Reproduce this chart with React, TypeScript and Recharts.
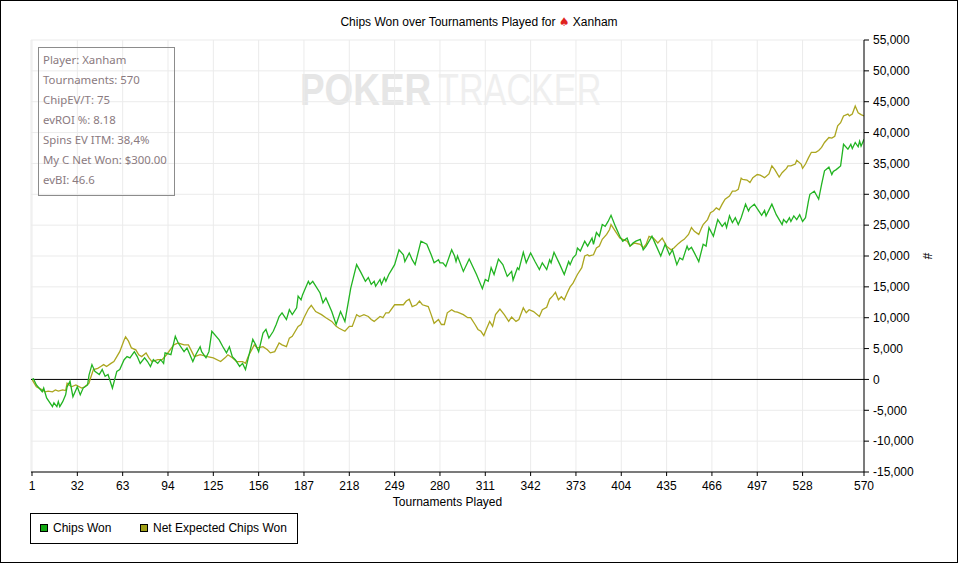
import React from "react";
import { LineChart, Line, XAxis, YAxis, CartesianGrid, ReferenceLine } from "recharts";

// ---- Data (tournament number, chips) ----
const chipsWonTournaments = [
  1, 2, 4, 8, 9, 11, 15, 16, 18, 19, 20, 22, 24, 25, 27, 29, 32, 34, 36, 39, 40, 42, 44, 47, 49, 51, 53, 56, 59, 61,
  64, 66, 68, 71, 73, 75, 78, 80, 82, 84, 87, 89, 91, 92, 96, 99, 101, 105, 107, 111, 113, 116, 117, 120, 122, 124,
  129, 132, 134, 136, 138, 140, 143, 145, 147, 152, 154, 156, 159, 161, 163, 166, 168, 170, 172, 175, 177, 179, 182,
  183, 185, 186, 190, 191, 193, 198, 200, 202, 206, 209, 212, 215, 219, 223, 226, 229, 231, 233, 235, 236, 239, 240,
  242, 243, 245, 247, 249, 252, 255, 256, 259, 261, 263, 267, 271, 274, 276, 279, 280, 282, 284, 288, 290, 291, 292,
  296, 300, 305, 309, 311, 313, 315, 317, 320, 323, 326, 329, 330, 333, 334, 337, 339, 342, 345, 348, 350, 353, 355,
  356, 358, 362, 365, 368, 369, 371, 373, 374, 376, 379, 381, 384, 385, 387, 389, 391, 393, 395, 397, 400, 403, 405,
  408, 410, 412, 414, 417, 419, 421, 425, 428, 431, 434, 437, 439, 442, 444, 446, 449, 450, 452, 454, 457, 460, 462,
  464, 467, 470, 473, 475, 476, 478, 480, 482, 484, 486, 489, 491, 492, 495, 498, 500, 502, 503, 507, 510, 514, 515,
  517, 519, 520, 522, 524, 526, 528, 530, 532, 533, 536, 539, 541, 543, 546, 548, 549, 551, 554, 556, 559, 561, 562,
  564, 566, 567, 568, 570,
];
const chipsWonValues = [
  0, 100, -900, -2000, -1400, -3000, -4400, -3800, -4400, -3600, -4400, -3600, -2500, -1200, -300, -2800, -1200,
  -2500, -1400, -900, 700, 2400, 1300, 800, 1600, 500, 800, -1400, 1300, 1600, 3200, 3700, 3500, 4500, 3700, 2600,
  3500, 2900, 2100, 3200, 2600, 3200, 2600, 4300, 4000, 7000, 5900, 4500, 5100, 2900, 4000, 5300, 4500, 3500, 4500,
  7800, 6400, 5100, 4300, 5300, 3700, 3200, 2100, 2600, 1600, 6500, 5600, 4500, 7500, 8100, 6700, 7800, 8900, 10200,
  10800, 9700, 11300, 10500, 11600, 13500, 12900, 13700, 15900, 15400, 15900, 14000, 12400, 13200, 11000, 8900,
  11000, 9400, 14800, 18600, 17300, 15900, 16500, 15400, 15900, 15100, 16200, 15400, 16500, 15900, 17000, 17800,
  18600, 21000, 20200, 19100, 20500, 19400, 18600, 22400, 21900, 20200, 18900, 19400, 18900, 18900, 18300, 21000,
  20000, 19100, 20000, 17500, 19500, 17000, 14700, 16200, 15900, 18100, 17000, 19500, 18600, 16700, 17500, 16100,
  18100, 17800, 20600, 18900, 20500, 19100, 17800, 18900, 17800, 19400, 18900, 20600, 18600, 17000, 19100, 18600,
  19700, 20200, 21300, 20800, 22400, 21600, 22900, 21900, 23800, 23200, 25100, 24800, 25600, 26600, 24800, 23200,
  22400, 22900, 21600, 22100, 22400, 22700, 21000, 21600, 23200, 21600, 20000, 21900, 20200, 21000, 18600, 19700,
  19400, 21600, 21000, 21400, 20500, 19100, 21900, 21600, 24600, 23200, 25900, 24800, 25400, 24600, 26500, 25400,
  26200, 25100, 26200, 28400, 27300, 27800, 28400, 27300, 26600, 27400, 26500, 28400, 26700, 25100, 25900, 25400,
  26200, 25600, 26500, 25900, 26700, 25600, 26200, 28900, 30000, 30500, 29200, 31600, 33800, 34400, 33200, 33700,
  34000, 34600, 38100, 37300, 38100, 37400, 38400, 37700, 38600, 37800, 38900,
];

const netExpectedTournaments = [
  1, 4, 8, 10, 12, 15, 17, 19, 22, 24, 25, 28, 31, 35, 37, 40, 41, 43, 46, 48, 50, 52, 55, 57, 59, 61, 64, 65, 67, 69,
  72, 74, 76, 79, 81, 83, 87, 90, 93, 98, 101, 105, 108, 112, 116, 121, 125, 130, 133, 135, 138, 141, 145, 147, 149,
  153, 155, 159, 162, 164, 167, 170, 172, 175, 177, 179, 183, 185, 187, 190, 192, 195, 199, 202, 206, 209, 211, 215,
  218, 220, 223, 225, 228, 231, 233, 235, 239, 241, 243, 245, 249, 251, 255, 257, 259, 261, 264, 266, 268, 272, 274,
  276, 279, 281, 283, 285, 288, 290, 292, 296, 299, 301, 304, 306, 308, 310, 312, 314, 316, 318, 321, 324, 327, 329,
  332, 334, 337, 339, 341, 344, 348, 350, 353, 355, 357, 359, 361, 363, 365, 367, 369, 371, 374, 377, 379, 381, 382,
  385, 387, 389, 391, 394, 396, 397, 400, 403, 405, 408, 410, 413, 417, 419, 421, 423, 426, 429, 432, 435, 438, 440,
  443, 445, 447, 450, 452, 454, 457, 459, 460, 463, 465, 467, 469, 471, 473, 475, 478, 480, 482, 484, 486, 487, 490,
  492, 494, 497, 499, 502, 505, 507, 509, 512, 514, 517, 518, 520, 523, 524, 527, 528, 530, 532, 534, 537, 539, 541,
  543, 546, 548, 550, 552, 554, 556, 559, 560, 562, 564, 566, 568, 570,
];
const netExpectedValues = [
  0, -1200, -1700, -2000, -1900, -2000, -1700, -1900, -1700, -1800, -600, -1200, -900, -1400, -1200, -600, 200, 1600,
  1800, 2100, 2400, 2100, 2600, 2900, 3700, 4500, 6400, 6900, 6200, 5100, 4800, 4000, 3700, 4300, 3500, 2900, 3200,
  3200, 4000, 5600, 5900, 5600, 5600, 3700, 4000, 3700, 3500, 2900, 3500, 4000, 3500, 2900, 2900, 2600, 3800, 5600,
  5100, 5300, 4800, 4300, 4500, 5900, 5600, 5300, 6700, 7000, 8600, 8900, 10000, 11400, 12000, 11000, 10500, 10000,
  9400, 8600, 8300, 7800, 8600, 8600, 10500, 10200, 10500, 10200, 9700, 9400, 10200, 10000, 10800, 10800, 12100,
  12100, 12100, 12700, 13000, 11800, 12100, 12700, 12100, 11800, 10500, 9100, 9700, 8900, 8900, 10800, 11300, 11000,
  10900, 10500, 10000, 10000, 8900, 8100, 7800, 7100, 8300, 9400, 8600, 10500, 11400, 10500, 9400, 10100, 9400, 9700,
  11600, 10800, 11300, 11000, 10200, 11300, 11700, 13000, 13500, 14100, 12900, 13400, 12900, 14000, 15000, 15600,
  17000, 18100, 20000, 20200, 20000, 20200, 21300, 21600, 22700, 23500, 24300, 25100, 24000, 22900, 22700, 22400,
  21600, 22100, 21900, 21300, 21900, 23200, 22900, 22100, 22900, 21600, 21000, 21300, 22000, 22400, 22700, 23500,
  24600, 24000, 23500, 24600, 25100, 25900, 27000, 27300, 27800, 27500, 28400, 29200, 29700, 30500, 30500, 30800,
  32600, 32400, 32300, 31900, 32700, 33200, 33100, 32700, 33300, 34600, 34000, 32800, 33500, 34200, 34600, 34600,
  34900, 35500, 34900, 34200, 34900, 35900, 36800, 36800, 37100, 37600, 38400, 39200, 39100, 39400, 41100, 41600,
  42700, 43000, 42700, 43000, 44300, 43200, 42900, 42700,
];

const xTicks = [1, 32, 63, 94, 125, 156, 187, 218, 249, 280, 311, 342, 373, 404, 435, 466, 497, 528, 570];
const yTicks = [-15000, -10000, -5000, 0, 5000, 10000, 15000, 20000, 25000, 30000, 35000, 40000, 45000, 50000, 55000];

const infoLines = [
  "Player: Xanham",
  "Tournaments: 570",
  "ChipEV/T: 75",
  "evROI %: 8.18",
  "Spins EV ITM: 38,4%",
  "My C Net Won: $300.00",
  "evBI: 46.6",
];

const seriesNames = ["Chips Won", "Net Expected Chips Won"];
const GREEN = "#22b422";
const OLIVE = "#aca620";

const chipsWonData = chipsWonTournaments.map((t, i) => ({ t, v: chipsWonValues[i] }));
const netExpectedData = netExpectedTournaments.map((t, i) => ({ t, v: netExpectedValues[i] }));

const ARIAL = "'Liberation Sans', Arial, sans-serif";

export default function App() {
  return (
    <div style={{ position: "absolute", left: 0, top: 0, width: 958, height: 563, background: "#fff", fontFamily: ARIAL }}>
      {/* watermark */}
      <svg width={958} height={563} style={{ position: "absolute", left: 0, top: 0 }}>
        <text
          transform="translate(300,105) scale(0.82,1)"
          x={0}
          y={0}
          fontFamily="'Liberation Sans', sans-serif"
          fontSize={45}
          fontWeight="bold"
          fill="#e6e6e6"
        >
          POKER
        </text>
        <text
          transform="translate(438,105) scale(0.76,1)"
          x={0}
          y={0}
          fontFamily="'Liberation Sans', sans-serif"
          fontSize={45}
          fill="#efefef"
        >
          TRACKER
        </text>
      </svg>

      <div style={{ position: "absolute", left: 0, top: 0 }}>
        <LineChart width={958} height={563} margin={{ top: 40, right: 30, left: 31, bottom: 61 }}>
          <CartesianGrid stroke="#ebebeb" />
          <XAxis
            dataKey="t"
            type="number"
            domain={[1, 570]}
            ticks={xTicks}
            interval={0}
            padding={{ left: 1, right: 0 }}
            height={30}
            tickSize={4}
            tickMargin={5}
            axisLine={{ stroke: "#000" }}
            tickLine={{ stroke: "#000" }}
            tick={{ fill: "#000", fontSize: 12, fontFamily: ARIAL }}
            allowDataOverflow
          />
          <XAxis
            xAxisId="top"
            orientation="top"
            type="number"
            domain={[1, 570]}
            height={0}
            tick={false}
            tickLine={false}
            axisLine={{ stroke: "#000" }}
          />
          <YAxis
            orientation="right"
            type="number"
            domain={[-15000, 55000]}
            ticks={yTicks}
            interval={0}
            width={64}
            tickSize={5}
            tickMargin={4}
            axisLine={{ stroke: "#000" }}
            tickLine={{ stroke: "#000" }}
            tick={{ fill: "#000", fontSize: 12, fontFamily: ARIAL, textAnchor: "start" }}
            tickFormatter={(v: number) => v.toLocaleString("en-US")}
            allowDataOverflow
          />
          <YAxis
            yAxisId="left"
            orientation="left"
            type="number"
            domain={[-15000, 55000]}
            width={0}
            tick={false}
            tickLine={false}
            axisLine={{ stroke: "#000" }}
          />
          <ReferenceLine y={0} stroke="#000" strokeWidth={1} />
          <Line
            data={netExpectedData}
            dataKey="v"
            name={seriesNames[1]}
            type="linear"
            stroke={OLIVE}
            strokeWidth={1.3}
            dot={false}
            activeDot={false}
            isAnimationActive={false}
          />
          <Line
            data={chipsWonData}
            dataKey="v"
            name={seriesNames[0]}
            type="linear"
            stroke={GREEN}
            strokeWidth={1.3}
            dot={false}
            activeDot={false}
            isAnimationActive={false}
          />
        </LineChart>
      </div>

      {/* title */}
      <div
        style={{
          position: "absolute",
          left: 0,
          top: 14,
          width: 958,
          textAlign: "center",
          fontSize: 12,
          lineHeight: "16px",
          color: "#000",
        }}
      >
        Chips Won over Tournaments Played for{" "}
        <span style={{ color: "#e0221e", fontFamily: "'DejaVu Sans', sans-serif" }}>♠</span> Xanham
      </div>

      {/* info box */}
      <div
        style={{
          position: "absolute",
          left: 38,
          top: 47,
          width: 137,
          height: 149,
          boxSizing: "border-box",
          border: "1px solid #8c8c8c",
          fontFamily: "'Noto Sans', sans-serif",
          fontSize: 11.4,
          color: "#8a7a80",
        }}
      >
        {infoLines.map((s, i) => (
          <div key={i} style={{ position: "absolute", left: 4, top: 3 + i * 20, lineHeight: "18px", whiteSpace: "nowrap" }}>
            {s}
          </div>
        ))}
      </div>

      {/* x axis title */}
      <div
        style={{
          position: "absolute",
          left: 31,
          top: 494,
          width: 833,
          textAlign: "center",
          fontSize: 12,
          lineHeight: "16px",
          color: "#000",
        }}
      >
        Tournaments Played
      </div>

      {/* y axis title */}
      <div
        style={{
          position: "absolute",
          left: 919,
          top: 248,
          width: 16,
          height: 16,
          textAlign: "center",
          fontSize: 12,
          lineHeight: "16px",
          transform: "rotate(90deg)",
          color: "#000",
        }}
      >
        #
      </div>

      {/* legend */}
      <div
        style={{
          position: "absolute",
          left: 30,
          top: 513,
          width: 268,
          height: 31,
          boxSizing: "border-box",
          border: "1px solid #000",
          fontSize: 12,
          color: "#000",
        }}
      >
        {[
          { name: seriesNames[0], color: "#12a812", left: 9, textLeft: 22 },
          { name: seriesNames[1], color: "#a0a018", left: 109, textLeft: 122 },
        ].map((it) => (
          <React.Fragment key={it.name}>
            <div
              style={{
                position: "absolute",
                left: it.left,
                top: 10,
                width: 8,
                height: 8,
                boxSizing: "border-box",
                border: "1px solid #000",
                background: it.color,
              }}
            />
            <div style={{ position: "absolute", left: it.textLeft, top: 7, lineHeight: "14px", whiteSpace: "nowrap" }}>
              {it.name}
            </div>
          </React.Fragment>
        ))}
      </div>

      {/* outer frame */}
      <div
        style={{
          position: "absolute",
          left: 0,
          top: 0,
          width: 958,
          height: 563,
          boxSizing: "border-box",
          border: "1px solid #000",
          pointerEvents: "none",
        }}
      />
    </div>
  );
}
